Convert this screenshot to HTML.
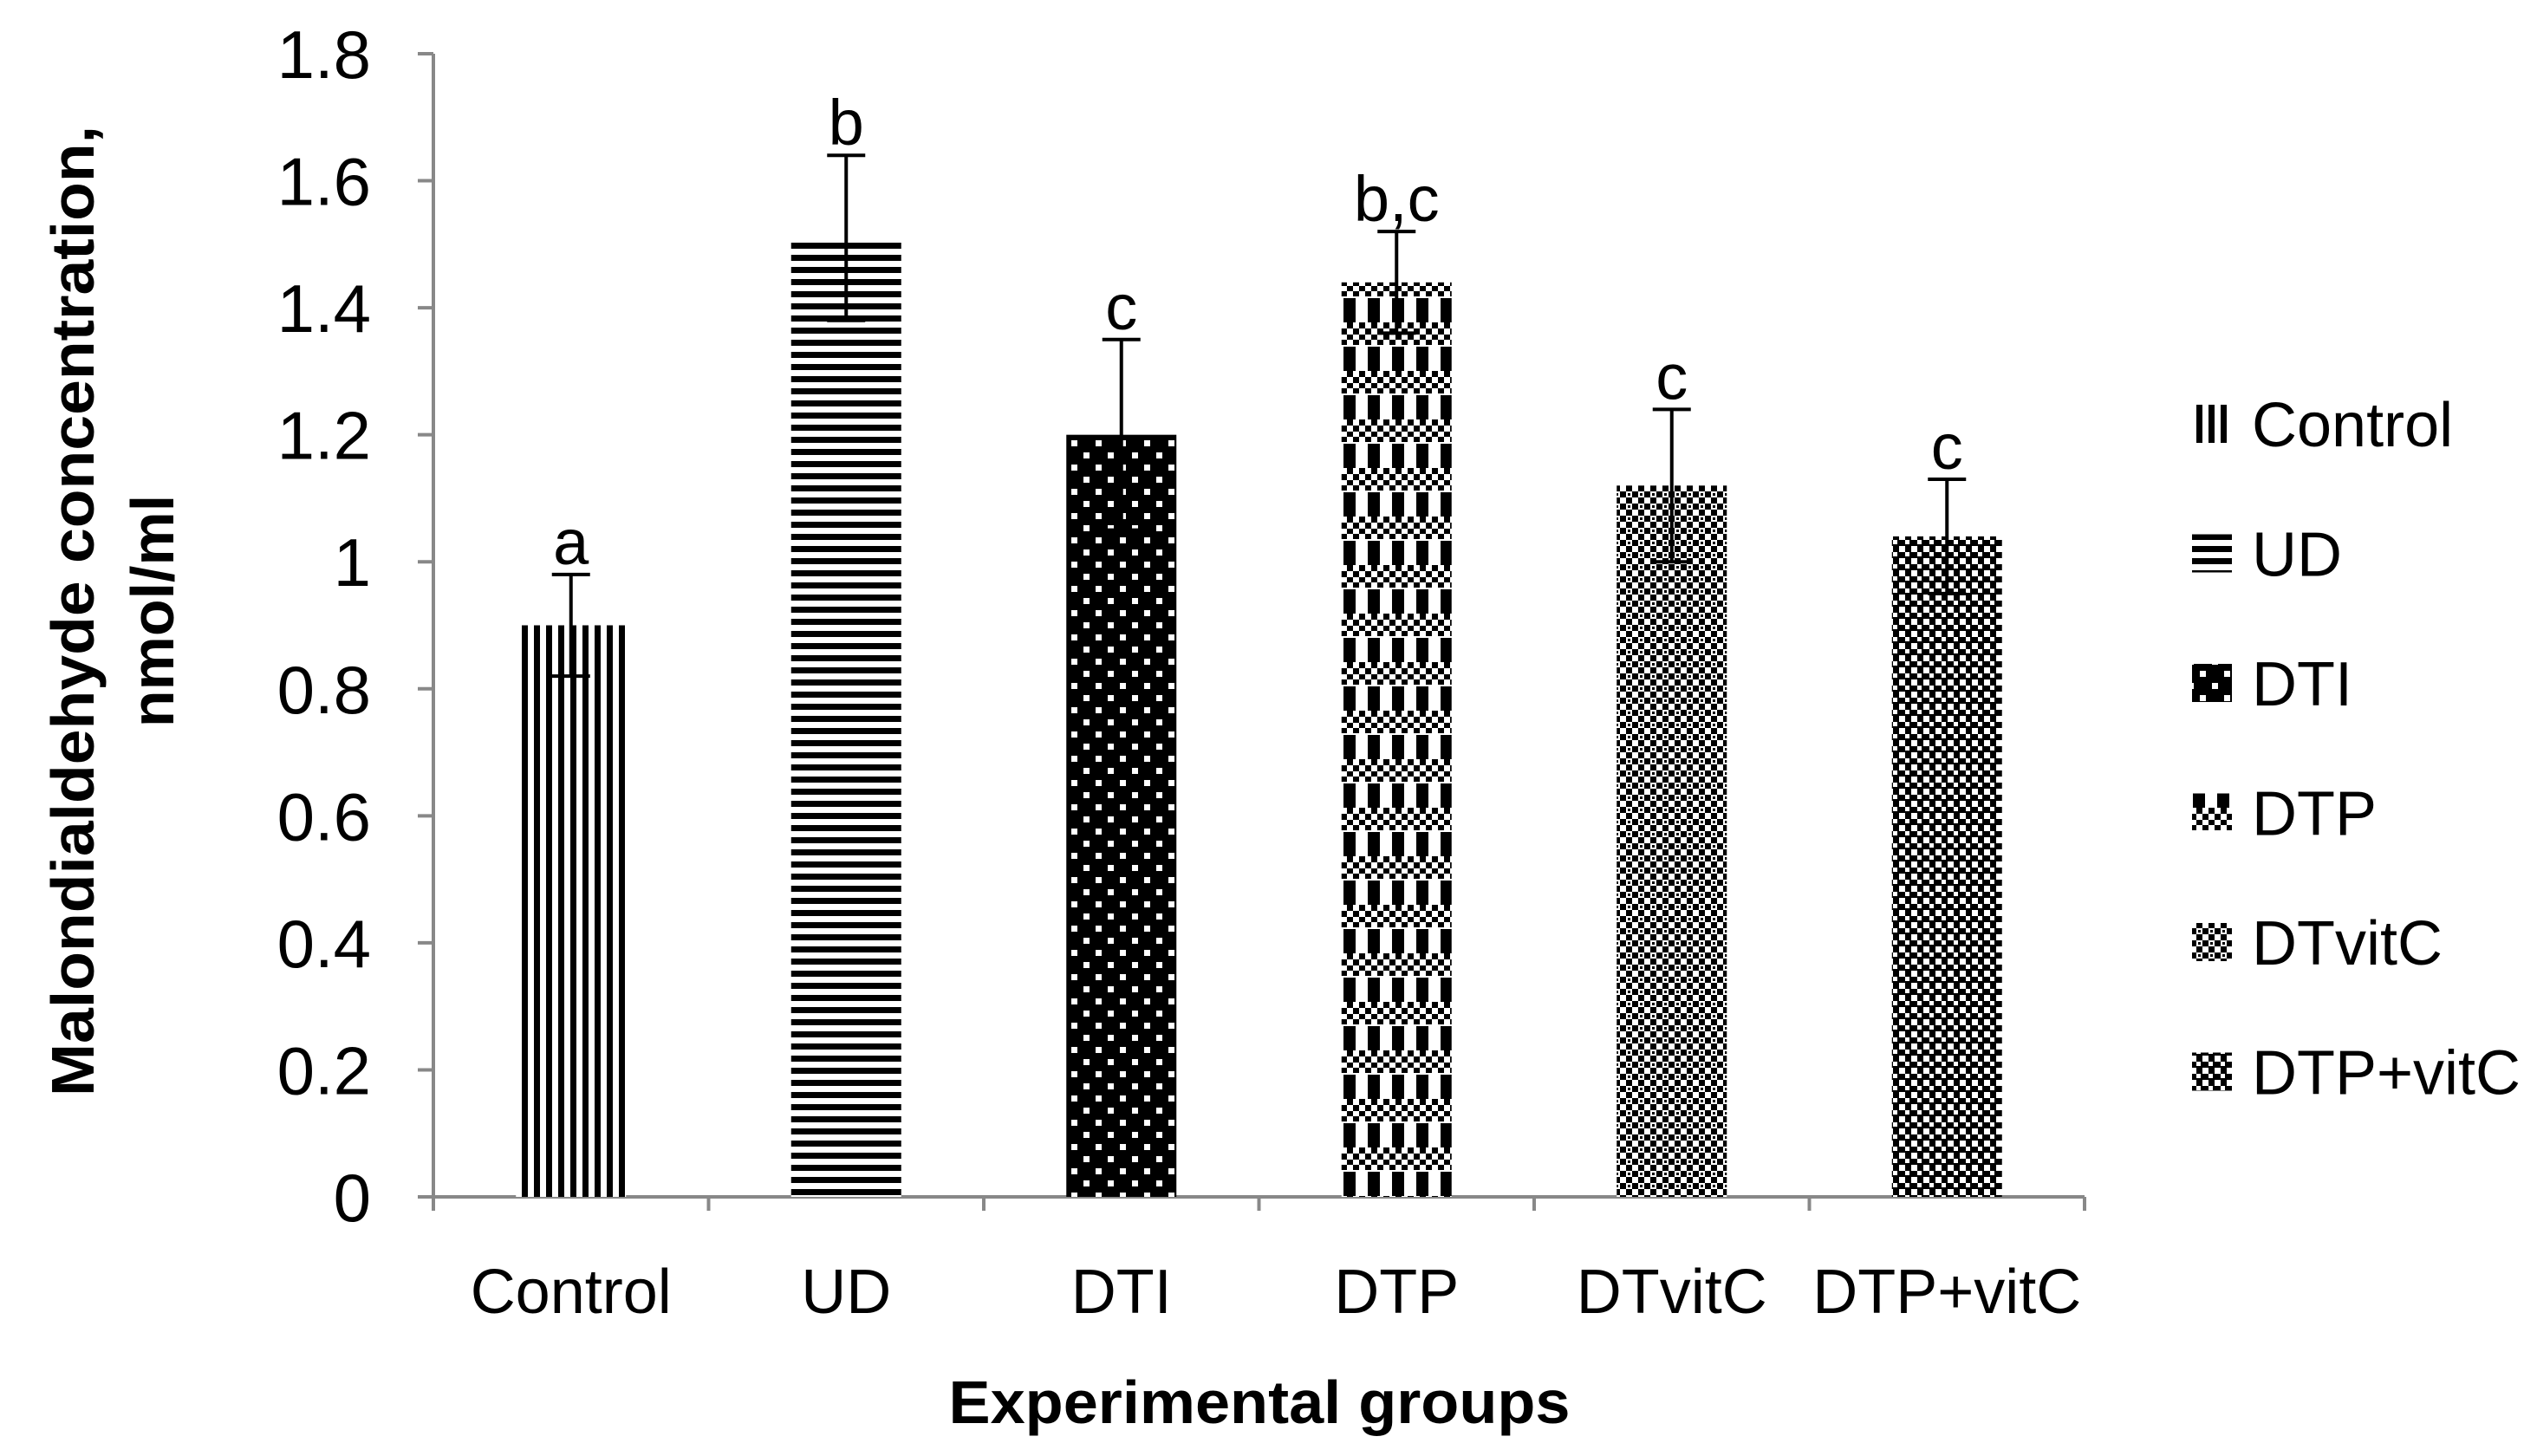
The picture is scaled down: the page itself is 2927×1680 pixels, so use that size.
<!DOCTYPE html>
<html><head><meta charset="utf-8"><style>
html,body{margin:0;padding:0;background:#fff;}
svg{display:block;font-family:"Liberation Sans",Arial,sans-serif;}
</style></head><body>
<svg id="chart" xmlns="http://www.w3.org/2000/svg" width="2927" height="1680" viewBox="0 0 2927 1680">
<defs>
<pattern id="p-control" patternUnits="userSpaceOnUse" width="14" height="14"><rect width="14" height="14" fill="#fff"/><rect width="7" height="14" fill="#000"/></pattern>
<pattern id="p-ud" patternUnits="userSpaceOnUse" width="14" height="14"><rect width="14" height="14" fill="#fff"/><rect width="14" height="7" fill="#000"/></pattern>
<pattern id="p-dti" patternUnits="userSpaceOnUse" width="28" height="28"><rect width="28" height="28" fill="#000"/><rect x="4" y="4" width="7" height="7" fill="#fff"/><rect x="18" y="18" width="7" height="7" fill="#fff"/></pattern>
<pattern id="p-dtp" patternUnits="userSpaceOnUse" width="56" height="56"><rect width="56" height="56" fill="#fff"/><rect x="10" y="8" width="14" height="28" fill="#000"/><rect x="38" y="8" width="14" height="28" fill="#000"/><path d="M0 36h7v7h-7zM14 36h7v7h-7zM28 36h7v7h-7zM42 36h7v7h-7zM7 43h7v7h-7zM21 43h7v7h-7zM35 43h7v7h-7zM49 43h7v7h-7zM0 50h7v6h-7zM14 50h7v6h-7zM28 50h7v6h-7zM42 50h7v6h-7zM7 0h7v6h-7zM21 0h7v6h-7zM35 0h7v6h-7zM49 0h7v6h-7z" fill="#000"/></pattern>
<pattern id="p-dtvitc" patternUnits="userSpaceOnUse" width="14" height="14"><rect width="14" height="14" fill="#fff"/><rect width="7" height="7" fill="#000"/><rect x="7" y="7" width="7" height="7" fill="#000"/><rect x="2" y="9" width="3" height="3" fill="#000"/></pattern>
<pattern id="p-dtpvitc" patternUnits="userSpaceOnUse" width="14" height="14"><rect width="14" height="14" fill="#000"/><rect x="7" y="0" width="7" height="7" fill="#fff"/><rect x="0" y="7" width="5" height="5" fill="#fff"/></pattern>
</defs>
<g id="axes"></g>
<g id="bars"></g>
<g id="legend"></g>
<text x="1453" y="1642" font-size="70" font-weight="bold" text-anchor="middle" textLength="717" lengthAdjust="spacingAndGlyphs">Experimental groups</text>
<g transform="translate(0,705) rotate(-90)">
<text x="0" y="108" font-size="70" font-weight="bold" text-anchor="middle" textLength="1120" lengthAdjust="spacingAndGlyphs">Malondialdehyde concentration,</text>
<text x="0" y="200" font-size="70" font-weight="bold" text-anchor="middle">nmol/ml</text>
</g>
</svg>
<script>
const categories = ["Control","UD","DTI","DTP","DTvitC","DTP+vitC"];
const values = [0.9,1.51,1.2,1.44,1.12,1.04];
const errors = [0.08,0.13,0.15,0.08,0.12,0.09];
const letters = ["a","b","c","b,c","c","c"];
const yTicks = [0,0.2,0.4,0.6,0.8,1,1.2,1.4,1.6,1.8];
const yTickLabels = ["0","0.2","0.4","0.6","0.8","1","1.2","1.4","1.6","1.8"];
const patterns = ["p-control","p-ud","p-dti","p-dtp","p-dtvitc","p-dtpvitc"];

const NS="http://www.w3.org/2000/svg";
const X0=500, X1=2405, Y0=1381, YT=62, YMAX=1.8;
const band=(X1-X0)/categories.length;
const yS=v=>Y0-(v/YMAX)*(Y0-YT);
const xC=i=>X0+band*(i+0.5);
function mk(tag,attrs,parent,text){const e=document.createElementNS(NS,tag);for(const k in attrs)e.setAttribute(k,attrs[k]);if(text!==undefined)e.textContent=text;parent.appendChild(e);return e;}
const axes=document.getElementById('axes'), bars=document.getElementById('bars'), legend=document.getElementById('legend');

let el=mk('line',{x1:X0,y1:YT,x2:X0,y2:Y0,stroke:'#888','stroke-width':4},axes);


el=mk('line',{x1:X0-18,y1:Y0,x2:X1,y2:Y0,stroke:'#888','stroke-width':4},axes);


yTicks.forEach((t,i)=>{
  const y=yS(t);
  let tk=mk('line',{x1:X0-18,y1:y,x2:X0,y2:y,stroke:'#888','stroke-width':4},axes);
  
  
  let lb=mk('text',{x:X0-72,y:y+28,'font-size':78,'text-anchor':'end'},axes,yTickLabels[i]);
  
  
});
for(let i=0;i<=categories.length;i++){
  const x=X0+band*i;
  let tk=mk('line',{x1:x,y1:Y0,x2:x,y2:Y0+16,stroke:'#888','stroke-width':4},axes);
  
  
}
const bw=band*0.4;
categories.forEach((c,i)=>{
  const cx=xC(i), top=yS(values[i]);
  let r=mk('rect',{x:cx-bw/2,y:top,width:bw,height:Y0-top,fill:'url(#'+patterns[i]+')'},bars);
  
  
  const hi=yS(values[i]+errors[i]), lo=yS(values[i]-errors[i]);
  let eb=mk('path',{d:`M${cx} ${lo}V${hi}M${cx-22} ${hi}H${cx+22}M${cx-22} ${lo}H${cx+22}`,stroke:'#000','stroke-width':4,fill:'none'},bars);
  
  
  let lt=mk('text',{x:cx,y:hi-12,'font-size':74,'text-anchor':'middle'},bars,letters[i]);
  
  
  let xl=mk('text',{x:cx,y:1515,'font-size':72,'text-anchor':'middle'},axes,c);
  
  
});
categories.forEach((c,i)=>{
  const cy=489+i*149.5;
  let g=mk('g',{},legend);
  
  
  mk('rect',{x:2529,y:cy-22,width:46,height:44,fill:'url(#'+patterns[i]+')'},g);
  mk('text',{x:2598,y:cy+26,'font-size':72},g,c);
});
</script>
</body></html>
